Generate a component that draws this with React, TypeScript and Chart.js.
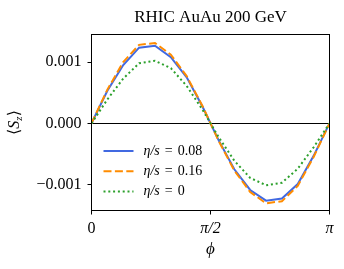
import React, { useEffect, useRef } from 'react';
import { Chart, registerables } from 'chart.js';

Chart.register(...registerables);

// phi sample points (radians, 0..pi)
const phi = [0, 0.2094, 0.4189, 0.6283, 0.8378, 1.0472, 1.2566, 1.4661, 1.6755, 1.885, 2.0944, 2.3038, 2.5133, 2.7227, 2.9322, 3.1416];
// <S_z> for eta/s = 0.08
const szEta008 = [0, 0.00053, 0.00095, 0.001234, 0.001266, 0.00108, 0.00075, 0.00027, -0.00027, -0.00075, -0.001087, -0.001261, -0.001228, -0.00099, -0.00053, 0];
// <S_z> for eta/s = 0.16
const szEta016 = [0, 0.00055, 0.00100, 0.00128, 0.00131, 0.00112, 0.00077, 0.00028, -0.00028, -0.00077, -0.00112, -0.001305, -0.00127, -0.00102, -0.00055, 0];
// <S_z> for eta/s = 0
const szEta000 = [0, 0.00039, 0.00073, 0.00098, 0.00102, 0.00090, 0.00061, 0.00022, -0.00022, -0.00061, -0.00089, -0.00101, -0.00097, -0.00074, -0.00039, 0];

const seriesLabels = ['η/s = 0.08', 'η/s = 0.16', 'η/s = 0'];
const seriesColors = ['#4169e1', '#ff8c00', '#2ca02c'];
const seriesDashes = [[], [8, 3.4], [2, 2.8]];

const xTickValues = [0, Math.PI / 2, Math.PI];
const xTickLabels = ['0', 'π/2', 'π'];
const yTickValues = [-0.001, 0, 0.001];
const yTickLabels = ['−0.001', '0.000', '0.001'];

const titleText = 'RHIC AuAu 200 GeV';
const xAxisLabel = 'ϕ';

const SERIF = '"Liberation Serif", "DejaVu Serif", serif';

const toPoints = (ys: number[]) => phi.map((x, i) => ({ x, y: ys[i] }));

const decorPlugin = {
  id: 'decor',
  afterDraw(chart: any) {
    const { ctx, chartArea: a } = chart;
    ctx.save();
    // frame
    ctx.strokeStyle = '#000';
    ctx.lineWidth = 1;
    ctx.setLineDash([]);
    ctx.strokeRect(a.left, a.top, a.right - a.left, a.bottom - a.top);

    // title
    ctx.fillStyle = '#000';
    ctx.font = `17px ${SERIF}`;
    ctx.textAlign = 'center';
    ctx.textBaseline = 'alphabetic';
    ctx.fillText(titleText, (a.left + a.right) / 2, a.top - 12.8);

    // y axis label <S_z>
    ctx.save();
    ctx.translate(19, (a.top + a.bottom) / 2);
    ctx.rotate(-Math.PI / 2);
    const parts = [
      { t: '⟨', f: `16px ${SERIF}`, dy: 0 },
      { t: 'S', f: `italic 16px ${SERIF}`, dy: 0 },
      { t: 'z', f: `italic 11px ${SERIF}`, dy: 2.5 },
      { t: '⟩', f: `16px ${SERIF}`, dy: 0 },
    ];
    let total = 0;
    const widths = parts.map((p) => {
      ctx.font = p.f;
      const w = ctx.measureText(p.t).width;
      total += w;
      return w;
    });
    let cx = -total / 2;
    ctx.textAlign = 'left';
    parts.forEach((p, i) => {
      ctx.font = p.f;
      ctx.fillText(p.t, cx, p.dy);
      cx += widths[i];
    });
    ctx.restore();

    // legend
    const rowY = [151, 171.2, 191.5];
    chart.data.datasets.forEach((ds: any, i: number) => {
      const y = rowY[i];
      ctx.save();
      ctx.strokeStyle = ds.borderColor;
      ctx.lineWidth = ds.borderWidth;
      ctx.setLineDash(ds.borderDash || []);
      ctx.beginPath();
      ctx.moveTo(a.left + 12, y);
      ctx.lineTo(a.left + 42, y);
      ctx.stroke();
      ctx.restore();
      const [lhs, rhs] = String(ds.label).split(' = ');
      let x = a.left + 52;
      ctx.textBaseline = 'middle';
      ctx.textAlign = 'left';
      ctx.font = `italic 14px ${SERIF}`;
      ctx.fillText(lhs, x, y);
      x += ctx.measureText(lhs).width + 5;
      ctx.font = `14px ${SERIF}`;
      ctx.fillText('=', x, y);
      x += ctx.measureText('=').width + 5;
      ctx.fillText(rhs, x, y);
    });
    ctx.restore();
  },
};

export default function App() {
  const ref = useRef<HTMLCanvasElement | null>(null);
  useEffect(() => {
    if (!ref.current) return;
    const chart = new Chart(ref.current, {
      type: 'line',
      data: {
        datasets: [szEta008, szEta016, szEta000].map((ys, i) => ({
          label: seriesLabels[i],
          data: toPoints(ys),
          borderColor: seriesColors[i],
          borderWidth: 2,
          borderDash: seriesDashes[i],
          borderCapStyle: 'butt',
          pointRadius: 0,
          fill: false,
          tension: 0,
          order: 3 - i,
        })),
      },
      options: {
        animation: false,
        responsive: false,
        devicePixelRatio: 1,
        layout: { padding: { top: 34.5, right: 14.5, left: 0, bottom: 0 } },
        plugins: {
          legend: { display: false },
          title: { display: false },
          tooltip: { enabled: false },
        },
        scales: {
          x: {
            type: 'linear',
            min: 0,
            max: Math.PI,
            afterFit: (s: any) => { s.height = 58.5; },
            afterBuildTicks: (s: any) => { s.ticks = xTickValues.map((v) => ({ value: v })); },
            ticks: {
              autoSkip: false,
              maxRotation: 0,
              color: '#000',
              padding: 5,
              callback: (_v: any, i: number) => xTickLabels[i],
              font: (c: any) => ({ family: SERIF, size: 16, style: c.tick && c.tick.value === 0 ? 'normal' : 'italic' }),
            },
            grid: { drawOnChartArea: false, tickLength: 4, tickColor: '#000', tickWidth: 1 },
            border: { display: false },
            title: {
              display: true,
              text: xAxisLabel,
              color: '#000',
              font: { family: SERIF, size: 17, style: 'italic' },
              padding: { top: 0, bottom: 9 },
            },
          },
          y: {
            type: 'linear',
            min: -0.001422,
            max: 0.001449,
            afterFit: (s: any) => { s.width = 91.5; },
            afterBuildTicks: (s: any) => { s.ticks = yTickValues.map((v) => ({ value: v })); },
            ticks: {
              autoSkip: false,
              color: '#000',
              padding: 6,
              callback: (_v: any, i: number) => yTickLabels[i],
              font: { family: SERIF, size: 16 },
            },
            grid: {
              color: (c: any) => (c.tick && c.tick.value === 0 ? '#000' : 'rgba(0,0,0,0)'),
              tickColor: '#000',
              tickLength: 4,
              lineWidth: 1,
            },
            border: { display: false },
          },
        },
      } as any,
      plugins: [decorPlugin],
    });
    return () => chart.destroy();
  }, []);
  return (
    <div style={{ position: 'absolute', left: 0, top: 0, width: 344, height: 269, background: '#fff' }}>
      <canvas ref={ref} width={344} height={269} style={{ display: 'block' }} />
    </div>
  );
}
